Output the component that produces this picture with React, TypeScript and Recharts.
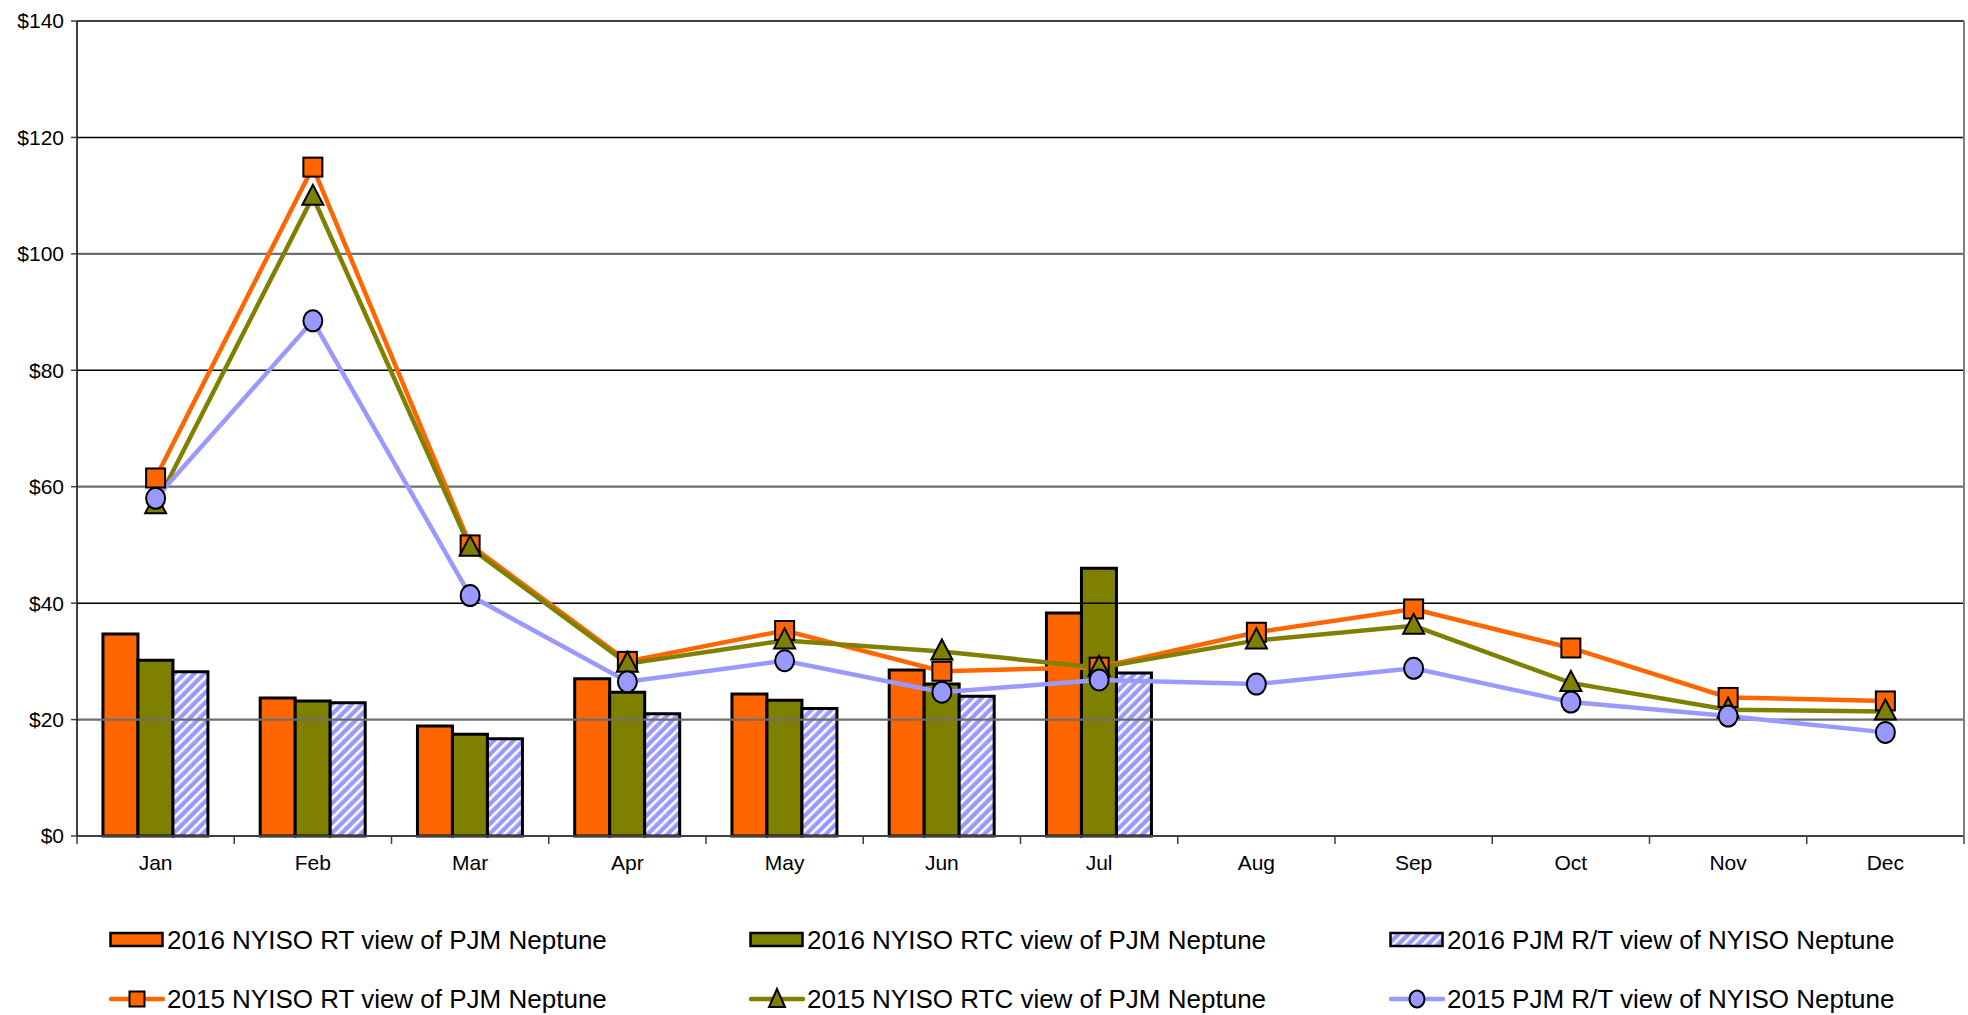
import { ComposedChart, Bar, Line, XAxis, YAxis, ReferenceLine } from "recharts";

// Monthly Neptune prices, 2016 bars (Jan-Jul) over 2015 lines.
const MONTHS = ["Jan", "Feb", "Mar", "Apr", "May", "Jun", "Jul", "Aug", "Sep", "Oct", "Nov", "Dec"];

const NYISO_RT_2016 = [34.7, 23.7, 18.9, 27.0, 24.4, 28.5, 38.3, null, null, null, null, null];
const NYISO_RTC_2016 = [30.2, 23.2, 17.5, 24.7, 23.3, 26.1, 46.0, null, null, null, null, null];
const PJM_RT_2016 = [28.2, 22.9, 16.7, 21.0, 21.9, 24.0, 28.0, null, null, null, null, null];

const NYISO_RT_2015 = [61.5, 114.9, 50.0, 30.0, 35.3, 28.3, 29.0, 35.0, 39.0, 32.3, 23.8, 23.2];
const NYISO_RTC_2015 = [56.8, 109.8, 49.5, 29.6, 33.6, 31.7, 28.9, 33.6, 36.1, 26.3, 21.7, 21.4];
const PJM_RT_2015 = [58.0, 88.5, 41.3, 26.5, 30.1, 24.7, 26.8, 26.1, 28.8, 23.0, 20.6, 17.8];

const Y_TICKS = [0, 20, 40, 60, 80, 100, 120, 140];

const BAR_NAMES = [
  "2016 NYISO RT view of PJM Neptune",
  "2016 NYISO RTC view of PJM Neptune",
  "2016 PJM R/T view of NYISO Neptune",
];
const LINE_NAMES = [
  "2015 NYISO RT view of PJM Neptune",
  "2015 NYISO RTC view of PJM Neptune",
  "2015 PJM R/T view of NYISO Neptune",
];

const ORANGE = "#FF6600";
const OLIVE = "#808000";
const LAVENDER = "#9999FF";
const FONT = "'Liberation Sans', Arial, sans-serif";

const W = 1968;
const H = 1015;
const Y_AXIS_W = 77;
const RIGHT_W = 4;
const BAND = (W - Y_AXIS_W - RIGHT_W) / MONTHS.length;

const rows = MONTHS.map((m, i) => ({
  month: m,
  rt16: NYISO_RT_2016[i],
  rtc16: NYISO_RTC_2016[i],
  pjm16: PJM_RT_2016[i],
  rt15: NYISO_RT_2015[i],
  rtc15: NYISO_RTC_2015[i],
  pjm15: PJM_RT_2015[i],
}));

// category ticks sit between months, labels in the middle
function MonthTick(props: any) {
  const { x, y, payload, index } = props;
  const h = BAND / 2;
  return (
    <g>
      <line x1={x - h} x2={x - h} y1={y} y2={y + 8} stroke="#404040" strokeWidth={1.5} />
      {index === MONTHS.length - 1 && (
        <line x1={x + h} x2={x + h} y1={y} y2={y + 8} stroke="#404040" strokeWidth={1.5} />
      )}
      <text x={x} y={y + 34} textAnchor="middle" fill="#000" fontSize={21} fontFamily={FONT}>
        {payload.value}
      </text>
    </g>
  );
}

const squareDot = (p: any) =>
  p.cx == null || p.cy == null ? (
    <g key={`sq-${p.index}`} />
  ) : (
    <rect key={`sq-${p.index}`} x={p.cx - 9.5} y={p.cy - 9.5} width={19} height={19} fill={ORANGE} stroke="#000" strokeWidth={2} />
  );

const triangleDot = (p: any) =>
  p.cx == null || p.cy == null ? (
    <g key={`tr-${p.index}`} />
  ) : (
    <polygon
      key={`tr-${p.index}`}
      points={`${p.cx},${p.cy - 12} ${p.cx - 10.5},${p.cy + 8} ${p.cx + 10.5},${p.cy + 8}`}
      fill={OLIVE}
      stroke="#000"
      strokeWidth={2}
    />
  );

const circleDot = (p: any) =>
  p.cx == null || p.cy == null ? (
    <g key={`ci-${p.index}`} />
  ) : (
    <ellipse key={`ci-${p.index}`} cx={p.cx} cy={p.cy} rx={9.5} ry={10.5} fill={LAVENDER} stroke="#000" strokeWidth={2} />
  );

function Swatch({ kind }: { kind: string }) {
  return (
    <svg width={56} height={26} style={{ display: "block", flex: "none" }}>
      <defs>
        <pattern id="hatch-leg" patternUnits="userSpaceOnUse" width={7} height={7} patternTransform="rotate(45)">
          <rect width={7} height={7} fill={LAVENDER} />
          <rect width={2.6} height={7} fill="#fff" />
        </pattern>
      </defs>
      {kind === "bar-rt" && <rect x={1.5} y={6} width={52} height={13} fill={ORANGE} stroke="#000" strokeWidth={2.5} />}
      {kind === "bar-rtc" && <rect x={1.5} y={6} width={52} height={13} fill={OLIVE} stroke="#000" strokeWidth={2.5} />}
      {kind === "bar-pjm" && <rect x={1.5} y={6} width={52} height={13} fill="url(#hatch-leg)" stroke="#000" strokeWidth={2.5} />}
      {kind === "line-rt" && (
        <>
          <line x1={2} x2={54} y1={13} y2={13} stroke={ORANGE} strokeWidth={4.5} strokeLinecap="round" />
          <rect x={20.5} y={5.5} width={15} height={15} fill={ORANGE} stroke="#000" strokeWidth={2} />
        </>
      )}
      {kind === "line-rtc" && (
        <>
          <line x1={2} x2={54} y1={13} y2={13} stroke={OLIVE} strokeWidth={4.5} strokeLinecap="round" />
          <polygon points="28,3 20,21 36,21" fill={OLIVE} stroke="#000" strokeWidth={2} />
        </>
      )}
      {kind === "line-pjm" && (
        <>
          <line x1={2} x2={54} y1={13} y2={13} stroke={LAVENDER} strokeWidth={4.5} strokeLinecap="round" />
          <ellipse cx={28} cy={13} rx={7.5} ry={8.5} fill={LAVENDER} stroke="#000" strokeWidth={2} />
        </>
      )}
    </svg>
  );
}

const LEGEND_COLS = [109, 749, 1389];
const LEGEND_ROWS_Y = [940, 999];
const BAR_KINDS = ["bar-rt", "bar-rtc", "bar-pjm"];
const LINE_KINDS = ["line-rt", "line-rtc", "line-pjm"];

export default function App() {
  const legendRows = [
    BAR_NAMES.map((n, i) => ({ name: n, kind: BAR_KINDS[i] })),
    LINE_NAMES.map((n, i) => ({ name: n, kind: LINE_KINDS[i] })),
  ];

  return (
    <div style={{ position: "absolute", left: 0, top: 0, width: W, height: H, background: "#fff" }}>
      <ComposedChart
        width={W}
        height={H}
        data={rows}
        margin={{ top: 21, right: 0, left: 0, bottom: 139 }}
        barCategoryGap="16.5%"
        barGap={0}
      >
        <defs>
          <pattern id="hatch" patternUnits="userSpaceOnUse" width={7} height={7} patternTransform="rotate(45)">
            <rect width={7} height={7} fill={LAVENDER} />
            <rect width={2.6} height={7} fill="#fff" />
          </pattern>
        </defs>
        <XAxis
          dataKey="month"
          height={40}
          tickLine={false}
          tickSize={0}
          tickMargin={0}
          interval={0}
          axisLine={{ stroke: "#404040", strokeWidth: 2 }}
          tick={<MonthTick />}
        />
        <YAxis
          width={Y_AXIS_W}
          domain={[0, 140]}
          ticks={Y_TICKS}
          interval={0}
          tickFormatter={(v: number) => `$${v}`}
          tick={{ fill: "#000", fontSize: 21, fontFamily: FONT }}
          tickSize={6}
          tickMargin={7}
          tickLine={{ stroke: "#404040", strokeWidth: 1.5 }}
          axisLine={{ stroke: "#000", strokeWidth: 1.5 }}
        />
        <YAxis
          yAxisId="edge"
          orientation="right"
          width={RIGHT_W}
          domain={[0, 140]}
          tick={false}
          tickLine={false}
          axisLine={{ stroke: "#808080", strokeWidth: 2 }}
        />
        {Y_TICKS.filter((v) => v > 0).map((v) => (
          <ReferenceLine
            key={v}
            y={v}
            stroke={v === 140 ? "#404040" : (v / 20) % 2 ? "#6e6e6e" : "#000"}
            strokeWidth={(v / 20) % 2 ? 2.2 : 1.5}
            ifOverflow="extendDomain"
          />
        ))}
        <Bar dataKey="rt16" name={BAR_NAMES[0]} fill={ORANGE} stroke="#000" strokeWidth={3} isAnimationActive={false} />
        <Bar dataKey="rtc16" name={BAR_NAMES[1]} fill={OLIVE} stroke="#000" strokeWidth={3} isAnimationActive={false} />
        <Bar dataKey="pjm16" name={BAR_NAMES[2]} fill="url(#hatch)" stroke="#000" strokeWidth={3} isAnimationActive={false} />
        <Line
          dataKey="rt15"
          name={LINE_NAMES[0]}
          type="linear"
          stroke={ORANGE}
          strokeWidth={4.5}
          dot={squareDot}
          activeDot={false}
          isAnimationActive={false}
        />
        <Line
          dataKey="rtc15"
          name={LINE_NAMES[1]}
          type="linear"
          stroke={OLIVE}
          strokeWidth={4.5}
          dot={triangleDot}
          activeDot={false}
          isAnimationActive={false}
        />
        <Line
          dataKey="pjm15"
          name={LINE_NAMES[2]}
          type="linear"
          stroke={LAVENDER}
          strokeWidth={4.5}
          dot={circleDot}
          activeDot={false}
          isAnimationActive={false}
        />
      </ComposedChart>

      {legendRows.map((row, r) =>
        row.map((item, c) => (
          <div
            key={item.name}
            style={{
              position: "absolute",
              left: LEGEND_COLS[c],
              top: LEGEND_ROWS_Y[r] - 15,
              height: 30,
              display: "flex",
              alignItems: "center",
              gap: 2,
              fontFamily: FONT,
              fontSize: 26,
              color: "#000",
              whiteSpace: "nowrap",
            }}
          >
            <Swatch kind={item.kind} />
            <span>{item.name}</span>
          </div>
        ))
      )}
    </div>
  );
}
